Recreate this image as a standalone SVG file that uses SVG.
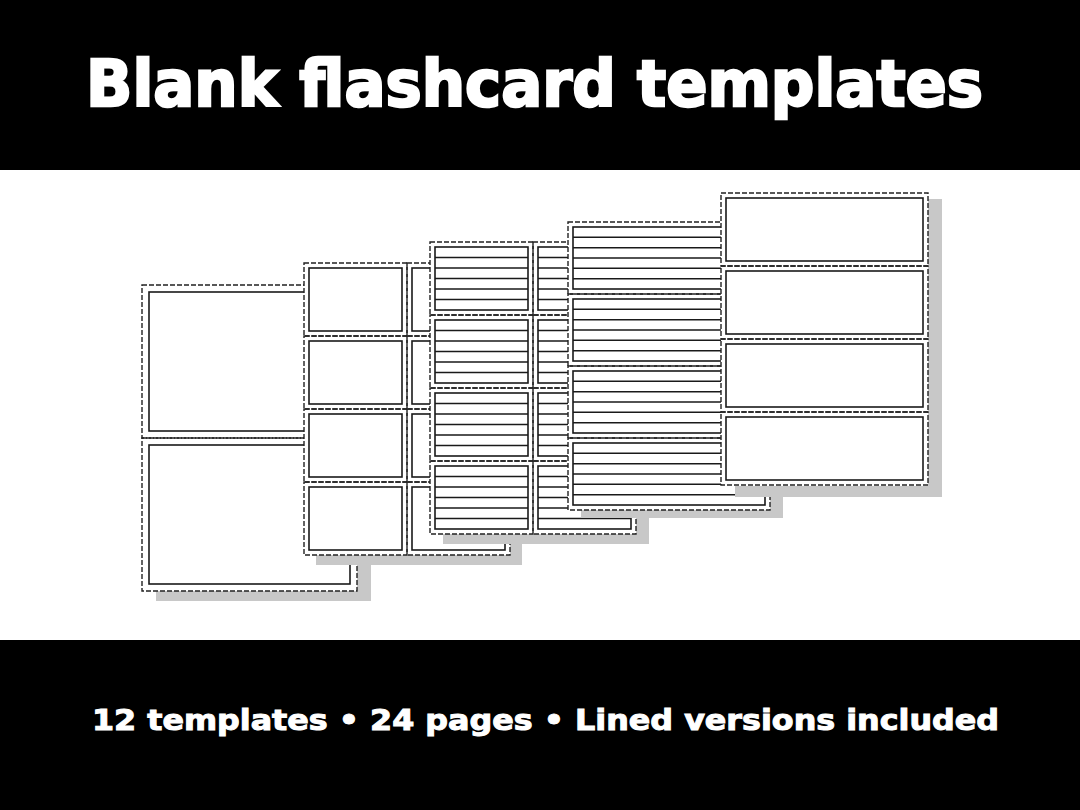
<svg xmlns="http://www.w3.org/2000/svg" xmlns:xlink="http://www.w3.org/1999/xlink" width="1080" height="810" viewBox="0 0 1080 810">
<style>
.d{fill:none;stroke:#222;stroke-width:1.4;stroke-dasharray:5 2}
.s{fill:none;stroke:#1a1a1a;stroke-width:1.6}
.pg{fill:#fff}
.sh{fill:#c8c8c8}
.t{font-family:"DejaVu Sans","Liberation Sans",sans-serif;font-weight:bold;fill:#fff;stroke:#fff}
</style>
<defs>
<g id="p1"><rect class="d" x="0" y="0" width="215" height="153"/><rect class="s" x="7" y="7" width="201" height="139"/></g>
<g id="p2"><rect class="d" x="0" y="0" width="103" height="73"/><rect class="s" x="5" y="5" width="93" height="63"/></g>
<g id="p5"><rect class="d" x="0" y="0" width="207" height="73"/><rect class="s" x="5" y="5" width="197" height="63"/></g>
<g id="l3"><rect class="d" x="0" y="0" width="103" height="73"/><rect class="s" x="5" y="5" width="93" height="63"/><path class="s" stroke-width="1.2" d="M5 15.5H98M5 26H98M5 36.5H98M5 47H98M5 57.5H98"/></g>
<g id="l4"><rect class="d" x="0" y="0" width="202" height="72"/><rect class="s" x="5" y="5" width="192" height="62"/><path class="s" stroke-width="1.2" d="M5 15.3H197M5 25.7H197M5 36H197M5 46.3H197M5 56.7H197"/></g>
</defs>
<rect x="0" y="0" width="1080" height="810" fill="#fff"/>
<rect x="0" y="0" width="1080" height="170" fill="#000"/>
<rect x="0" y="640" width="1080" height="170" fill="#000"/>
<text class="t" x="86" y="106" font-size="64" stroke-width="2.5" textLength="897" lengthAdjust="spacingAndGlyphs">Blank flashcard templates</text>
<text class="t" x="92" y="730" font-size="28" stroke-width="1" textLength="907" lengthAdjust="spacingAndGlyphs">12 templates  • 24 pages • Lined versions included</text>
<g id="page1">
<rect class="sh" x="156" y="295" width="215" height="306"/>
<rect class="pg" x="142" y="285" width="215" height="306"/>
<use xlink:href="#p1" x="142" y="285"/><use xlink:href="#p1" x="142" y="438"/>
</g>
<g id="page2">
<rect class="sh" x="316" y="273" width="206" height="292"/>
<rect class="pg" x="304" y="263" width="206" height="292"/>
<use xlink:href="#p2" x="304" y="263"/><use xlink:href="#p2" x="407" y="263"/>
<use xlink:href="#p2" x="304" y="336"/><use xlink:href="#p2" x="407" y="336"/>
<use xlink:href="#p2" x="304" y="409"/><use xlink:href="#p2" x="407" y="409"/>
<use xlink:href="#p2" x="304" y="482"/><use xlink:href="#p2" x="407" y="482"/>
</g>
<g id="page3">
<rect class="sh" x="443" y="252" width="206" height="292"/>
<rect class="pg" x="430" y="242" width="206" height="292"/>
<use xlink:href="#l3" x="430" y="242"/><use xlink:href="#l3" x="533" y="242"/>
<use xlink:href="#l3" x="430" y="315"/><use xlink:href="#l3" x="533" y="315"/>
<use xlink:href="#l3" x="430" y="388"/><use xlink:href="#l3" x="533" y="388"/>
<use xlink:href="#l3" x="430" y="461"/><use xlink:href="#l3" x="533" y="461"/>
</g>
<g id="page4">
<rect class="sh" x="581" y="230" width="202" height="288"/>
<rect class="pg" x="568" y="222" width="202" height="288"/>
<use xlink:href="#l4" x="568" y="222"/><use xlink:href="#l4" x="568" y="294"/>
<use xlink:href="#l4" x="568" y="366"/><use xlink:href="#l4" x="568" y="438"/>
</g>
<g id="page5">
<rect class="sh" x="735" y="199" width="207" height="298"/>
<rect class="pg" x="721" y="193" width="207" height="293"/>
<use xlink:href="#p5" x="721" y="193"/><use xlink:href="#p5" x="721" y="266"/>
<use xlink:href="#p5" x="721" y="339"/><use xlink:href="#p5" x="721" y="412"/>
</g>
</svg>
